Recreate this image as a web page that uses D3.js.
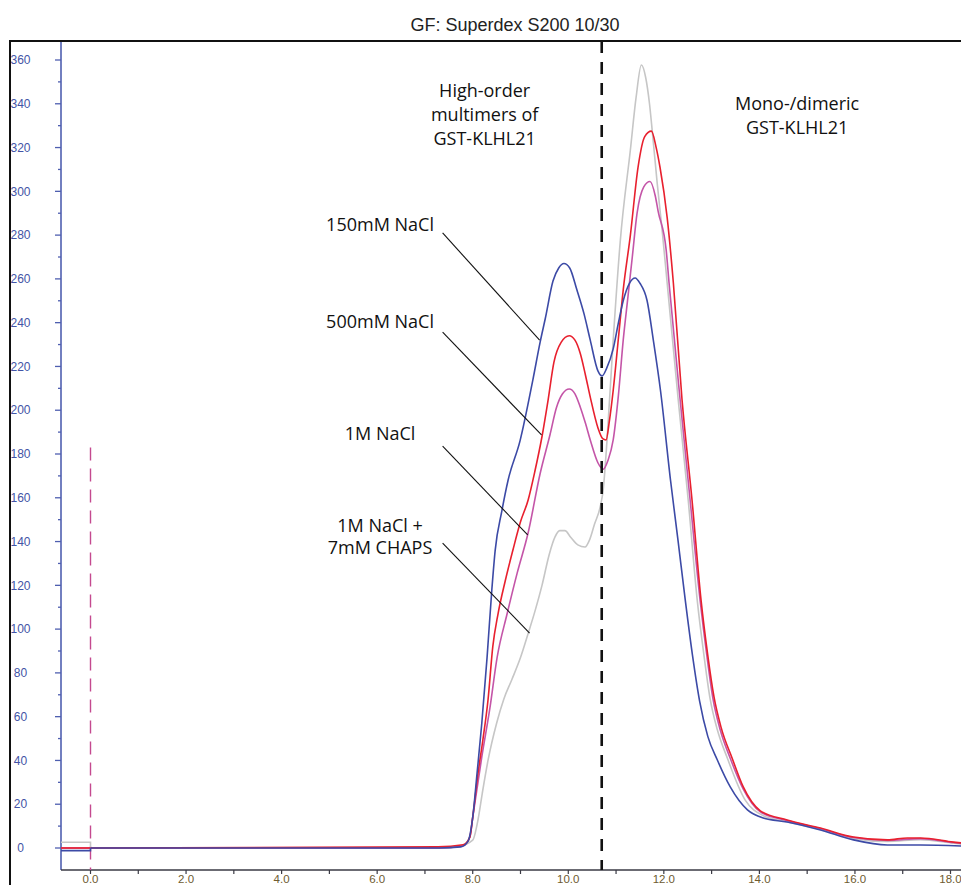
<!DOCTYPE html>
<html>
<head>
<meta charset="utf-8">
<script src="https://cdn.jsdelivr.net/npm/d3@7"></script>
<style>
  body { margin: 0; background: #fff; }
  svg { display: block; }
</style>
</head>
<body>
<svg id="chart"></svg>
<script>
var width = 961;
var height = 885;

// elution volume (mL), absorbance (mAU)
var nacl150 = [[0,0],[7.3,0],[7.75,0.5],[7.9,3],[8.0,14],[8.09,34],[8.19,57],[8.3,87],[8.4,118],[8.47,136],
  [8.61,154],[8.74,168],[8.99,186],[9.26,214],[9.41,231],[9.52,242],[9.68,259],[9.8,265],[9.91,267],[10.03,265],
  [10.18,255],[10.33,244],[10.46,232],[10.62,218],[10.71,215.7],[10.8,219],[10.94,228],[11.05,240],[11.15,250],
  [11.28,258],[11.4,260.4],[11.5,258],[11.65,250],[11.78,232],[11.93,209],[12.14,168],[12.3,140],[12.45,113],
  [12.6,88],[12.75,67],[12.92,51],[13.12,40.2],[13.39,27.9],[13.75,17.4],[14.08,13.7],[14.58,11.9],[15.28,8.2],
  [15.97,3.7],[16.68,1.4],[17.37,1.4],[18.23,0.9]];

var nacl500 = [[0,0],[7.27,0.5],[7.8,1.5],[7.94,5],[8.0,14],[8.11,34],[8.21,49],[8.32,67.6],[8.42,92],[8.53,107],
  [8.68,122],[8.84,136],[9.0,149],[9.16,159],[9.3,172],[9.45,188],[9.58,205],[9.7,222],[9.85,231],[10.02,234],
  [10.14,232],[10.25,226],[10.36,216],[10.46,206],[10.62,192],[10.72,187],[10.79,186.4],[10.86,195],[10.94,209],
  [11.05,233],[11.15,255],[11.3,280],[11.46,311],[11.6,325],[11.74,327.5],[11.84,320],[11.92,311],[12.07,288],
  [12.2,258],[12.38,205],[12.59,159],[12.78,113],[12.92,88],[13.05,69],[13.2,55],[13.43,41],[13.66,28],[14.02,17],
  [14.58,12.8],[15.28,9.1],[15.97,5],[16.68,3.7],[17.1,4.6],[17.37,4.6],[18.06,2.7],[18.23,2.3]];

var nacl1M = [[0,0],[7.3,0],[7.8,1],[7.94,5],[8.0,14],[8.19,41.6],[8.36,64],[8.51,87],[8.72,107],[8.93,125.6],
  [9.16,144],[9.41,171],[9.62,189],[9.75,201],[9.88,207.5],[10.02,209.7],[10.14,207.5],[10.25,201.5],[10.36,194],
  [10.46,186.4],[10.62,176],[10.73,173],[10.83,177],[10.94,186.4],[11.05,207],[11.15,232],[11.25,252],[11.34,270],
  [11.44,290],[11.58,302],[11.71,304.5],[11.82,298],[11.88,291],[12.05,273],[12.11,258],[12.34,205],[12.55,159],
  [12.76,113],[12.9,88],[13.03,68],[13.18,54],[13.39,41],[13.66,27],[14.02,16.5],[14.58,12.5],[15.28,8.8],[15.97,4.8],
  [16.68,3.5],[17.37,4.3],[18.06,2.5],[18.23,2.1]];

var nacl1Mchaps = [[0,0],[7.3,0],[7.67,0.5],[8.0,3.6],[8.11,12.8],[8.2,25],[8.32,40],[8.5,57],[8.65,68],[8.82,77],
  [9.0,87],[9.16,98],[9.3,108],[9.45,120],[9.6,134],[9.72,142],[9.82,145],[9.93,145],[10.05,142],[10.2,138.5],
  [10.35,137.5],[10.45,141],[10.55,148],[10.67,156],[10.73,163.5],[10.81,186],[10.94,232],[11.09,277.7],[11.3,319],
  [11.42,343],[11.53,357.7],[11.62,352],[11.7,340],[11.76,327],[11.86,304],[11.97,281],[12.07,258],[12.3,205],
  [12.51,159],[12.7,113],[12.84,88],[12.97,68],[13.12,54],[13.33,41],[13.7,22],[14.06,15],[14.58,12],[15.28,8.5],
  [15.97,4.3],[16.68,3],[17.37,3.8],[18.06,2.2],[18.23,1.8]];

// signal level before the injection mark
var preInjection = [-1.2, 0, 0, 2.6];
var seriesNames = ["150mM NaCl", "500mM NaCl", "1M NaCl", "1M NaCl + 7mM CHAPS"];
var seriesColors = ["#3c4aa6", "#e8202e", "#c455a8", "#c6c6c6"];

var yTicks = d3.range(0, 361, 20);
var yMinor = d3.range(10, 361, 20);
var xTicks = d3.range(0, 19, 2);
var xMinor = d3.range(1, 19, 2);
var dividerVolume = 10.7;
var injectionTop = 183;

var svg = d3.select("#chart")
  .attr("width", width)
  .attr("height", height);

var axisLeftX = 61;
var axisBottomY = 870;
var frameTop = 41;

var x = d3.scaleLinear()
  .domain([0, 18])
  .range([90.5, 950.5]);

var y = d3.scaleLinear()
  .domain([0, 360])
  .range([848, 60]);

var xMin = x.invert(axisLeftX);

// title
svg.append("text")
  .attr("x", 515)
  .attr("y", 31)
  .attr("text-anchor", "middle")
  .attr("font-family", "'Liberation Sans', Arial, sans-serif")
  .attr("font-size", 18)
  .attr("fill", "#222")
  .text("GF: Superdex S200 10/30");

// y axis (blue)
var axisBlue = "#4f5fb0";
svg.append("line")
  .attr("x1", axisLeftX).attr("x2", axisLeftX)
  .attr("y1", frameTop).attr("y2", axisBottomY)
  .attr("stroke", axisBlue)
  .attr("stroke-width", 1.6);

svg.selectAll(".ytick")
  .data(yTicks)
  .enter()
  .append("line")
    .attr("x1", axisLeftX - 6).attr("x2", axisLeftX)
    .attr("y1", d => y(d)).attr("y2", d => y(d))
    .attr("stroke", axisBlue)
    .attr("stroke-width", 1.3);

svg.selectAll(".yminor")
  .data(yMinor)
  .enter()
  .append("line")
    .attr("x1", axisLeftX - 3).attr("x2", axisLeftX)
    .attr("y1", d => y(d)).attr("y2", d => y(d))
    .attr("stroke", axisBlue)
    .attr("stroke-width", 1.3);

svg.selectAll(".ylabel")
  .data(yTicks)
  .enter()
  .append("text")
    .attr("x", 20.5)
    .attr("y", d => y(d))
    .attr("dy", "0.35em")
    .attr("text-anchor", "middle")
    .attr("font-family", "'Liberation Sans', Arial, sans-serif")
    .attr("font-size", 12)
    .attr("fill", "#4354a6")
    .text(d => d);

// x axis
var axisDark = "#3a3a44";
svg.append("line")
  .attr("x1", axisLeftX).attr("x2", width)
  .attr("y1", axisBottomY).attr("y2", axisBottomY)
  .attr("stroke", axisDark)
  .attr("stroke-width", 1.6);

svg.selectAll(".xtick")
  .data(xTicks)
  .enter()
  .append("line")
    .attr("x1", d => x(d)).attr("x2", d => x(d))
    .attr("y1", axisBottomY).attr("y2", axisBottomY + 4)
    .attr("stroke", axisDark)
    .attr("stroke-width", 1.2);

svg.selectAll(".xminor")
  .data(xMinor)
  .enter()
  .append("line")
    .attr("x1", d => x(d)).attr("x2", d => x(d))
    .attr("y1", axisBottomY).attr("y2", axisBottomY + 4)
    .attr("stroke", axisDark)
    .attr("stroke-width", 1.2);

svg.selectAll(".xlabel")
  .data(xTicks)
  .enter()
  .append("text")
    .attr("x", d => x(d))
    .attr("y", 882.5)
    .attr("text-anchor", "middle")
    .attr("font-family", "'Liberation Sans', Arial, sans-serif")
    .attr("font-size", 11.5)
    .attr("fill", "#6e5b30")
    .text(d => d.toFixed(1));

// injection mark
svg.append("line")
  .attr("x1", x(0)).attr("x2", x(0))
  .attr("y1", y(injectionTop)).attr("y2", axisBottomY)
  .attr("stroke", "#c4498f")
  .attr("stroke-width", 1.4)
  .attr("stroke-dasharray", "13,8");

// traces, grey first so the blue sits on top
var traces = [nacl1Mchaps, nacl1M, nacl500, nacl150];
var order = [3, 2, 1, 0];

var line = d3.line()
  .x(d => x(d[0]))
  .y(d => y(d[1]))
  .curve(d3.curveMonotoneX);

var preLine = d3.line()
  .x(d => x(d[0]))
  .y(d => y(d[1]));

order.forEach(function(i, k) {
  var lvl = preInjection[i];
  svg.append("path")
    .attr("d", preLine([[xMin, lvl], [0, lvl], [0, 0]]))
    .attr("fill", "none")
    .attr("stroke", seriesColors[i])
    .attr("stroke-width", 1.6);
  svg.append("path")
    .attr("d", line(traces[k]))
    .attr("fill", "none")
    .attr("stroke", seriesColors[i])
    .attr("stroke-width", 1.6)
    .attr("stroke-linejoin", "round");
});

// divider between the two species
svg.append("line")
  .attr("x1", x(dividerVolume)).attr("x2", x(dividerVolume))
  .attr("y1", frameTop).attr("y2", axisBottomY)
  .attr("stroke", "#111")
  .attr("stroke-width", 2.6)
  .attr("stroke-dasharray", "12,9");

// annotations (volume, mAU)
var annoFont = "'Open Sans', 'Noto Sans', sans-serif";
var blocks = [
  { lines: ["High-order", "multimers of", "GST-KLHL21"], at: [8.25, 343], step: 24 },
  { lines: ["Mono-/dimeric", "GST-KLHL21"], at: [14.79, 337], step: 24 },
  { lines: [seriesNames[0]], at: [6.06, 281.9], step: 0 },
  { lines: [seriesNames[1]], at: [6.06, 237.5], step: 0 },
  { lines: [seriesNames[2]], at: [6.06, 186.4], step: 0 },
  { lines: ["1M NaCl +", "7mM CHAPS"], at: [6.06, 144.4], step: 22 }
];

blocks.forEach(function(b) {
  var t = svg.append("text")
    .attr("text-anchor", "middle")
    .attr("font-family", annoFont)
    .attr("font-size", 18)
    .attr("fill", "#111");
  b.lines.forEach(function(s, j) {
    t.append("tspan")
      .attr("x", x(b.at[0]))
      .attr("y", y(b.at[1]) + j * b.step)
      .text(s);
  });
});

var leaders = [
  [[7.37, 281], [9.40, 232]],
  [[7.37, 235.7], [9.44, 188.7]],
  [[7.37, 183.6], [9.15, 143]],
  [[7.37, 139.3], [9.19, 98.2]]
];

svg.selectAll(".leader")
  .data(leaders)
  .enter()
  .append("line")
    .attr("x1", d => x(d[0][0])).attr("y1", d => y(d[0][1]))
    .attr("x2", d => x(d[1][0])).attr("y2", d => y(d[1][1]))
    .attr("stroke", "#111")
    .attr("stroke-width", 1.1);

// outer frame
svg.append("rect")
  .attr("x", 10)
  .attr("y", frameTop)
  .attr("width", 1000)
  .attr("height", 1000)
  .attr("fill", "none")
  .attr("stroke", "#111")
  .attr("stroke-width", 2);
</script>
</body>
</html>
